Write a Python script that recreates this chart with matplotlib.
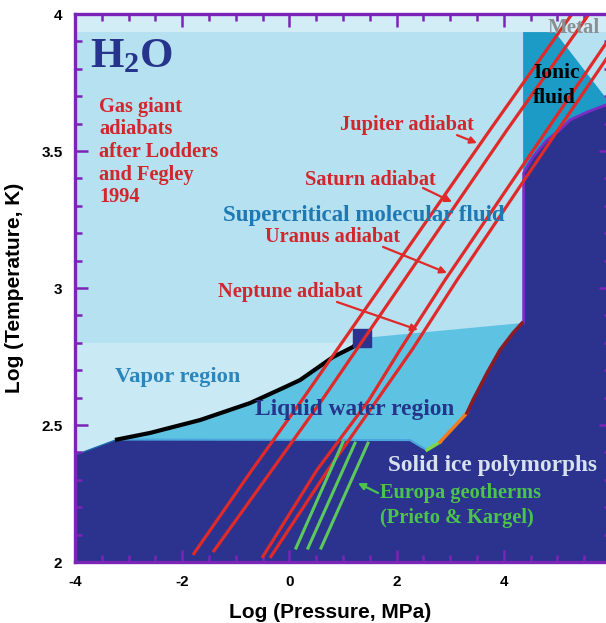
import matplotlib
matplotlib.use('Agg')
import matplotlib.pyplot as plt
import numpy as np

# phase boundaries of H2O (log P in MPa, log T in K)
vap_logp = [-3.216, -2.601, -1.668, -0.735, -0.119, 0.198, 0.813, 1.187, 1.354]
vap_logt = [2.447, 2.471, 2.518, 2.580, 2.635, 2.664, 2.748, 2.785, 2.817]
subl_logp = [-4.0, -3.216]
subl_logt = [2.39, 2.447]
melt_logp = [-3.216, 2.25, 2.437, 2.567, 2.81, 3.313, 3.425, 3.687, 3.929, 4.172, 4.34]
melt_logt = [2.447, 2.445, 2.423, 2.409, 2.438, 2.544, 2.591, 2.690, 2.774, 2.836, 2.872]
wall_logp = [4.37, 4.37, 4.545, 4.806, 5.049, 5.235, 5.552, 6.0]
wall_logt = [2.872, 3.42, 3.478, 3.540, 3.577, 3.613, 3.642, 3.675]
ionic_logp = [4.36, 4.36, 4.955, 5.907, 6.0, 6.0]
ionic_logt = [2.872, 3.934, 3.934, 3.693, 3.68, 2.872]
crit_logp, crit_logt = 1.354, 2.817
vapor_top = 2.80
top_band = 3.934

# gas giant adiabats
jupiter_logp = [-1.799, -0.698, 0.235, 3.743, 5.272]
jupiter_logt = [2.026, 2.336, 2.591, 3.577, 4.0]
saturn_logp = [-1.425, -0.325, 0.608, 4.06, 5.59]
saturn_logt = [2.036, 2.336, 2.591, 3.577, 4.0]
uranus_logp = [-0.511, 0.515, 1.485, 2.063, 2.903, 4.806, 6.28]
uranus_logt = [2.015, 2.336, 2.591, 2.774, 3.029, 3.577, 4.0]
neptune_logp = [-0.362, 0.72, 1.634, 2.287, 3.127, 5.011, 6.485]
neptune_logt = [2.015, 2.336, 2.591, 2.774, 3.029, 3.577, 4.0]

# Europa geotherms
europa_logp = [[0.123, 1.0], [0.347, 1.224], [0.59, 1.466]]
europa_logt = [[2.051, 2.438], [2.051, 2.434], [2.051, 2.434]]

xticks = [-4, -2, 0, 2, 4, 6]
xtick_labels = ['-4', '-2', '0', '2', '4', '6']
yticks = [2, 2.5, 3, 3.5, 4]
ytick_labels = ['2', '2.5', '3', '3.5', '4']

c_super = '#b6e1f0'
c_vapor = '#c9e9f4'
c_top = '#d3edf6'
c_liquid = '#5ec2e3'
c_ice = '#2b338e'
c_ionic = '#1b9bc5'
c_purple = '#7a24b8'
red = '#e02a2a'
red_txt = '#d0262c'
green = '#5cc95c'

plt.rcParams['mathtext.fontset'] = 'custom'
plt.rcParams['mathtext.rm'] = 'Liberation Serif:bold'
plt.rcParams['mathtext.it'] = 'Liberation Serif:bold'
plt.rcParams['mathtext.bf'] = 'Liberation Serif:bold'

fig = plt.figure(figsize=(6.06, 6.23), dpi=100)
ax = fig.add_axes([75/606, 61/623, 536/606, 548/623])
ax.set_xlim(-4, 6)
ax.set_ylim(2, 4)
ax.set_facecolor(c_super)

# regions
ax.axhspan(top_band, 4.0, color=c_top, lw=0, zorder=0.5)
ax.fill(ionic_logp, ionic_logt, color=c_ionic, lw=0, zorder=0.8)
vx = np.concatenate([[-4, crit_logp], vap_logp[::-1], [-4]])
vy = np.concatenate([[vapor_top, vapor_top], vap_logt[::-1], [subl_logt[0]]])
ax.fill(vx, vy, color=c_vapor, lw=0, zorder=0.9)
lx = np.concatenate([vap_logp, melt_logp[::-1]])
ly = np.concatenate([vap_logt, melt_logt[::-1]])
ax.fill(lx, ly, color=c_liquid, lw=0, zorder=1)
ix = np.concatenate([subl_logp, melt_logp[1:], wall_logp, [6, -4]])
iy = np.concatenate([subl_logt, melt_logt[1:], wall_logt, [2, 2]])
ax.fill(ix, iy, color=c_ice, lw=0, zorder=1.1)

# boundary lines
ax.plot(wall_logp, wall_logt, color='#7b2cc4', lw=2, zorder=1.5)
ax.plot(melt_logp[:4], melt_logt[:4], color='#4aa6dc', lw=1.5, zorder=1.5)
ax.plot(melt_logp[3:5], melt_logt[3:5], color='#7ad64a', lw=2.5, zorder=1.5)
ax.plot(melt_logp[4:6], melt_logt[4:6], color='#f07a20', lw=2.5, zorder=1.5)
ax.plot(melt_logp[5:], melt_logt[5:], color='#8e1a22', lw=2.5, zorder=1.5)
ax.plot(subl_logp, subl_logt, color='#1a66a8', lw=1, zorder=1.5)
ax.plot(vap_logp, vap_logt, color='black', lw=3, zorder=1.6)
ax.plot(crit_logp, crit_logt, marker='s', ms=12.5, color=c_ice, zorder=1.7)

# adiabats
for px, py in [(jupiter_logp, jupiter_logt), (saturn_logp, saturn_logt),
               (uranus_logp, uranus_logt), (neptune_logp, neptune_logt)]:
    ax.plot(px, py, color=red, lw=2.3, zorder=2, solid_capstyle='butt')

for px, py in zip(europa_logp, europa_logt):
    ax.plot(px, py, color=green, lw=2.2, zorder=2)

serif = 'Liberation Serif'


def label(x, y, s, color, size, **kw):
    ax.text(x, y, s, color=color, fontsize=size, fontfamily=serif,
            fontweight='bold', ha='left', va='center', zorder=4, **kw)


def arrow(tail, tip, color):
    ax.annotate('', xy=tip, xytext=tail, zorder=4,
                arrowprops=dict(arrowstyle='-|>', color=color, lw=1.6,
                                mutation_scale=10, shrinkA=0, shrinkB=0))


ax.text(-3.72, 3.807, r'H$_{2}$O', color='#26348c', fontsize=31,
        fontfamily=serif, fontweight='bold', ha='left', va='baseline', zorder=4)
label(-3.552, 3.496, 'Gas giant\nadiabats\nafter Lodders\nand Fegley\n1994',
      red_txt, 14.7, linespacing=1.18)
label(-1.239, 3.266, 'Supercritical molecular fluid', '#1e78b4', 16.5)
label(0.944, 3.595, 'Jupiter adiabat', red_txt, 14.7)
label(0.291, 3.394, 'Saturn adiabat', red_txt, 14.7)
label(-0.455, 3.186, 'Uranus adiabat', red_txt, 14.7)
label(-1.332, 2.985, 'Neptune adiabat', red_txt, 14.7)
label(4.545, 3.785, 'Ionic', 'black', 15.5)
label(4.545, 3.693, 'fluid', 'black', 15.5)
label(4.825, 3.949, 'Metal', '#8a8f94', 15)
label(-3.254, 2.675, 'Vapor region', '#2a86bc', 16.2)
label(-0.642, 2.555, 'Liquid water region', '#24358a', 16.8)
label(1.84, 2.354, 'Solid ice polymorphs', '#d8e2ef', 16.8)
label(1.69, 2.252, 'Europa geotherms', '#4cc44c', 14.7)
label(1.69, 2.16, '(Prieto & Kargel)', '#4cc44c', 14.7)

arrow((3.127, 3.558), (3.5, 3.529), red)
arrow((2.493, 3.365), (3.034, 3.314), red)
arrow((1.746, 3.150), (2.94, 3.055), red)
arrow((0.888, 2.949), (2.399, 2.847), red)
arrow((1.653, 2.252), (1.28, 2.288), '#4cc44c')

# axes styling
for s in ax.spines.values():
    s.set_color(c_purple)
    s.set_linewidth(2.4)
    s.set_zorder(5)
ax.set_xticks(xticks)
ax.set_xticklabels(xtick_labels)
ax.set_yticks(yticks)
ax.set_yticklabels(ytick_labels)
ax.set_xticks(np.arange(-4, 6.01, 0.5), minor=True)
ax.set_yticks(np.arange(2, 4.001, 0.1), minor=True)
ax.tick_params(which='both', direction='in', top=True, right=True,
               color=c_purple, width=1.8, pad=9)
ax.tick_params(which='major', length=9)
ax.tick_params(which='minor', length=5)
for lab in ax.get_xticklabels() + ax.get_yticklabels():
    lab.set_fontfamily('Liberation Sans')
    lab.set_fontweight('bold')
    lab.set_fontsize(11)

fig.text(330/606, 1 - 612/623, 'Log (Pressure, MPa)', fontfamily='Liberation Sans',
         fontweight='bold', fontsize=15, ha='center', va='center')
fig.text(15/606, 1 - 288/623, 'Log (Temperature, K)', fontfamily='Liberation Sans',
         fontweight='bold', fontsize=15, ha='center', va='center', rotation=90)

fig.savefig('out.png', dpi=100)
